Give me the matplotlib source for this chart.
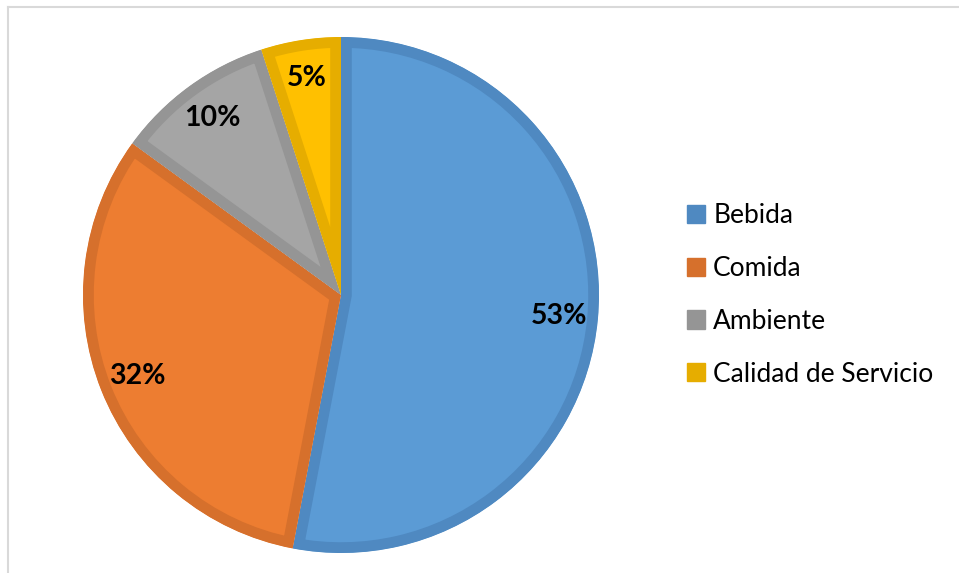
import matplotlib.pyplot as plt
from matplotlib.lines import Line2D
from matplotlib.patches import Patch

plt.rcParams['font.family'] = ['Lato', 'DejaVu Sans']

categorias = ['Bebida', 'Comida', 'Ambiente', 'Calidad de Servicio']
porcentajes = [53, 32, 10, 5]
relleno = ['#5B9BD5', '#ED7D31', '#A5A5A5', '#FFC000']
borde = ['#4F89C1', '#D6702C', '#959595', '#E6AD00']

W, H = 959, 573
fig = plt.figure(figsize=(W / 100, H / 100), dpi=100)

# marco gris claro del grafico
fig.add_artist(Line2D([8 / W, 8 / W], [0, 1 - 7 / H], color='#D9D9D9', lw=1.5))
fig.add_artist(Line2D([8 / W, 1], [1 - 7 / H, 1 - 7 / H], color='#D9D9D9', lw=1.5))

cx, cy, r = 341, 295, 258
ax = fig.add_axes([(cx - r) / W, (H - cy - r) / H, 2 * r / W, 2 * r / H])

wedges, textos, pcts = ax.pie(porcentajes, colors=relleno, startangle=90, counterclock=False,
                              autopct=lambda p: '%d%%' % round(p), pctdistance=0.85,
                              textprops=dict(fontsize=20.5, fontweight='bold', color='black'))

# borde grueso solo hacia dentro de cada porcion
for w, c in zip(wedges, borde):
    w.set_edgecolor(c)
    w.set_linewidth(15.5)
    w.set_clip_path(w)
    w.set_clip_on(True)

ax.set_xlim(-1, 1)
ax.set_ylim(-1, 1)

handles = [Patch(facecolor=c, edgecolor=c) for c in borde]
fig.legend(handles, categorias, loc='center left', bbox_to_anchor=(687 / W, 1 - 295 / H),
           frameon=False, fontsize=19, handlelength=0.69, handleheight=0.69,
           handletextpad=0.3, labelspacing=1.05, borderpad=0, borderaxespad=0)

fig.savefig('out.png', dpi=100)
